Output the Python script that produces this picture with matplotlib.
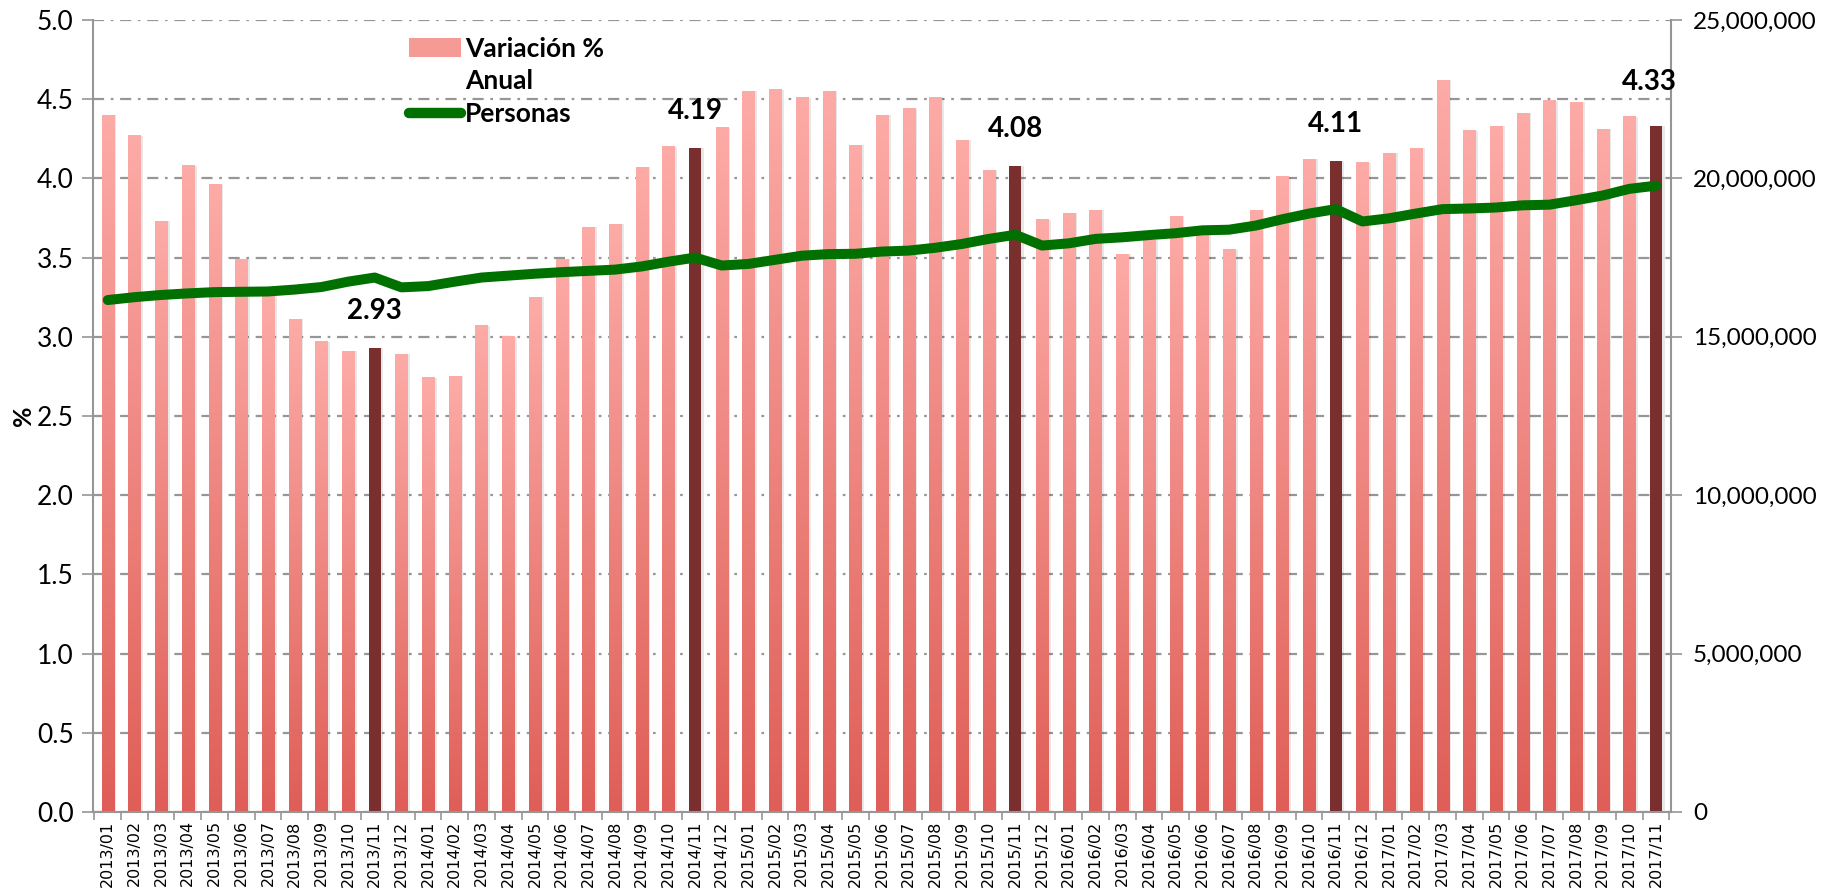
import numpy as np
import matplotlib
matplotlib.use("Agg")
import matplotlib.pyplot as plt
from matplotlib.colors import LinearSegmentedColormap
from matplotlib.patches import Patch
from matplotlib.lines import Line2D
from matplotlib.ticker import FuncFormatter

# months 2013/01 .. 2017/11
months = [f"{y}/{m:02d}" for y in range(2013, 2018) for m in range(1, 13)][:59]

# annual % variation (left axis)
variacion = [4.40, 4.27, 3.73, 4.08, 3.96, 3.49, 3.26, 3.11, 2.97, 2.91, 2.93, 2.89,
             2.74, 2.75, 3.07, 3.00, 3.25, 3.49, 3.69, 3.71, 4.07, 4.20, 4.19, 4.32,
             4.55, 4.56, 4.51, 4.55, 4.21, 4.40, 4.44, 4.51, 4.24, 4.05, 4.08, 3.74,
             3.78, 3.80, 3.52, 3.61, 3.76, 3.65, 3.55, 3.80, 4.01, 4.12, 4.11, 4.10,
             4.16, 4.19, 4.62, 4.30, 4.33, 4.41, 4.49, 4.48, 4.31, 4.39, 4.33]

# persons, millions (right axis)
personas_m = [16.16, 16.25, 16.32, 16.37, 16.41, 16.42, 16.43, 16.49, 16.57, 16.74, 16.87, 16.56,
              16.60, 16.74, 16.87, 16.93, 16.99, 17.04, 17.08, 17.12, 17.22, 17.37, 17.50, 17.25,
              17.30, 17.43, 17.56, 17.61, 17.62, 17.69, 17.72, 17.81, 17.93, 18.09, 18.22, 17.88,
              17.95, 18.09, 18.14, 18.21, 18.27, 18.36, 18.38, 18.51, 18.71, 18.89, 19.03, 18.64,
              18.74, 18.89, 19.03, 19.05, 19.08, 19.15, 19.17, 19.31, 19.46, 19.67, 19.77]
personas = np.array(personas_m) * 1e6

# November bars get highlighted + labelled
highlight = ["2013/11", "2014/11", "2015/11", "2016/11", "2017/11"]

FONT = "Lato"
GRID_C = "#969696"
DARK = "#782f2e"
cmap = LinearSegmentedColormap.from_list("bar", ["#df5e57", "#fdaba7"])
grad = np.linspace(0, 1, 256).reshape(-1, 1)

fig = plt.figure(figsize=(18.25, 8.92), dpi=100)
ax = fig.add_axes([0.051, 0.0897, 0.8645, 0.8879])

x = np.arange(len(months))
w = 0.45
for i, v in enumerate(variacion):
    # soft shadow on the right side of each bar
    ax.bar(x[i] + 0.1, v, width=w, color="#000000", alpha=0.09, zorder=1)
    if months[i] in highlight:
        ax.bar(x[i], v, width=w, color=DARK, zorder=2)
    else:
        ax.imshow(grad, extent=[x[i] - w / 2, x[i] + w / 2, 0, v], origin="lower",
                  aspect="auto", cmap=cmap, zorder=2)

for m in highlight:
    i = months.index(m)
    dy = 21 if m != "2017/11" else 26
    dx = 0 if m != "2017/11" else -5
    ax.annotate(f"{variacion[i]:.2f}", (x[i], variacion[i]), xytext=(dx, dy),
                textcoords="offset points", ha="center", va="baseline",
                fontsize=20, fontweight="bold", family=FONT, zorder=5)

ax.set_xlim(-0.55, len(months) - 0.45)
ax.set_ylim(0, 5)
ax.set_yticks(np.arange(0, 5.01, 0.5))
ax.yaxis.set_major_formatter(FuncFormatter(lambda v, p: f"{v:.1f}"))
ax.yaxis.grid(True, color=GRID_C, lw=1.6, linestyle=(0, (5, 3, 1.2, 3)))
ax.set_axisbelow(True)

ax.set_xticks(x)
ax.set_xticklabels(months, rotation=90, fontsize=11.5, family="DejaVu Sans")
ax.set_xticks(np.arange(-0.5, len(months), 1), minor=True)
ax.tick_params(axis="x", which="major", length=0, pad=6)
ax.tick_params(axis="x", which="minor", length=6, color=GRID_C, width=1.2)
ax.tick_params(axis="y", length=8, color=GRID_C, width=1.2, labelsize=19, pad=6)
for lab in ax.get_yticklabels():
    lab.set_family(FONT)

ax.set_ylabel("%", fontsize=18, fontweight="bold", family=FONT)
ax.yaxis.set_label_coords(-0.037, 0.5)

for s in ["left", "right", "bottom"]:
    ax.spines[s].set_color(GRID_C)
    ax.spines[s].set_linewidth(1.5)
ax.spines["top"].set_visible(False)

# right axis: persons
ax2 = ax.twinx()
ax2.plot(x, personas, color="#007000", lw=7.2, solid_capstyle="round",
         solid_joinstyle="round", zorder=4)
ax2.set_ylim(0, 25e6)
ax2.set_yticks(np.arange(0, 25e6 + 1, 5e6))
ax2.yaxis.set_major_formatter(FuncFormatter(lambda v, p: f"{int(v):,}"))
ax2.tick_params(axis="y", length=8, color=GRID_C, width=1.2, labelsize=17.5, pad=8)
for lab in ax2.get_yticklabels():
    lab.set_family(FONT)
for s in ax2.spines.values():
    s.set_visible(False)

handles = [Patch(facecolor="#f59a95", edgecolor="none"),
           Patch(alpha=0),
           Line2D([0], [0], color="#007000", lw=7.5, solid_capstyle="round")]
ax2.legend(handles, ["Variación %", "Anual", "Personas"], loc="upper left",
           bbox_to_anchor=(0.2, 0.979), frameon=False, borderpad=0, borderaxespad=0,
           handlelength=2.0, handletextpad=0.15, labelspacing=0.33,
           prop={"family": FONT, "weight": "bold", "size": 19})

fig.savefig("out.png", dpi=100)
